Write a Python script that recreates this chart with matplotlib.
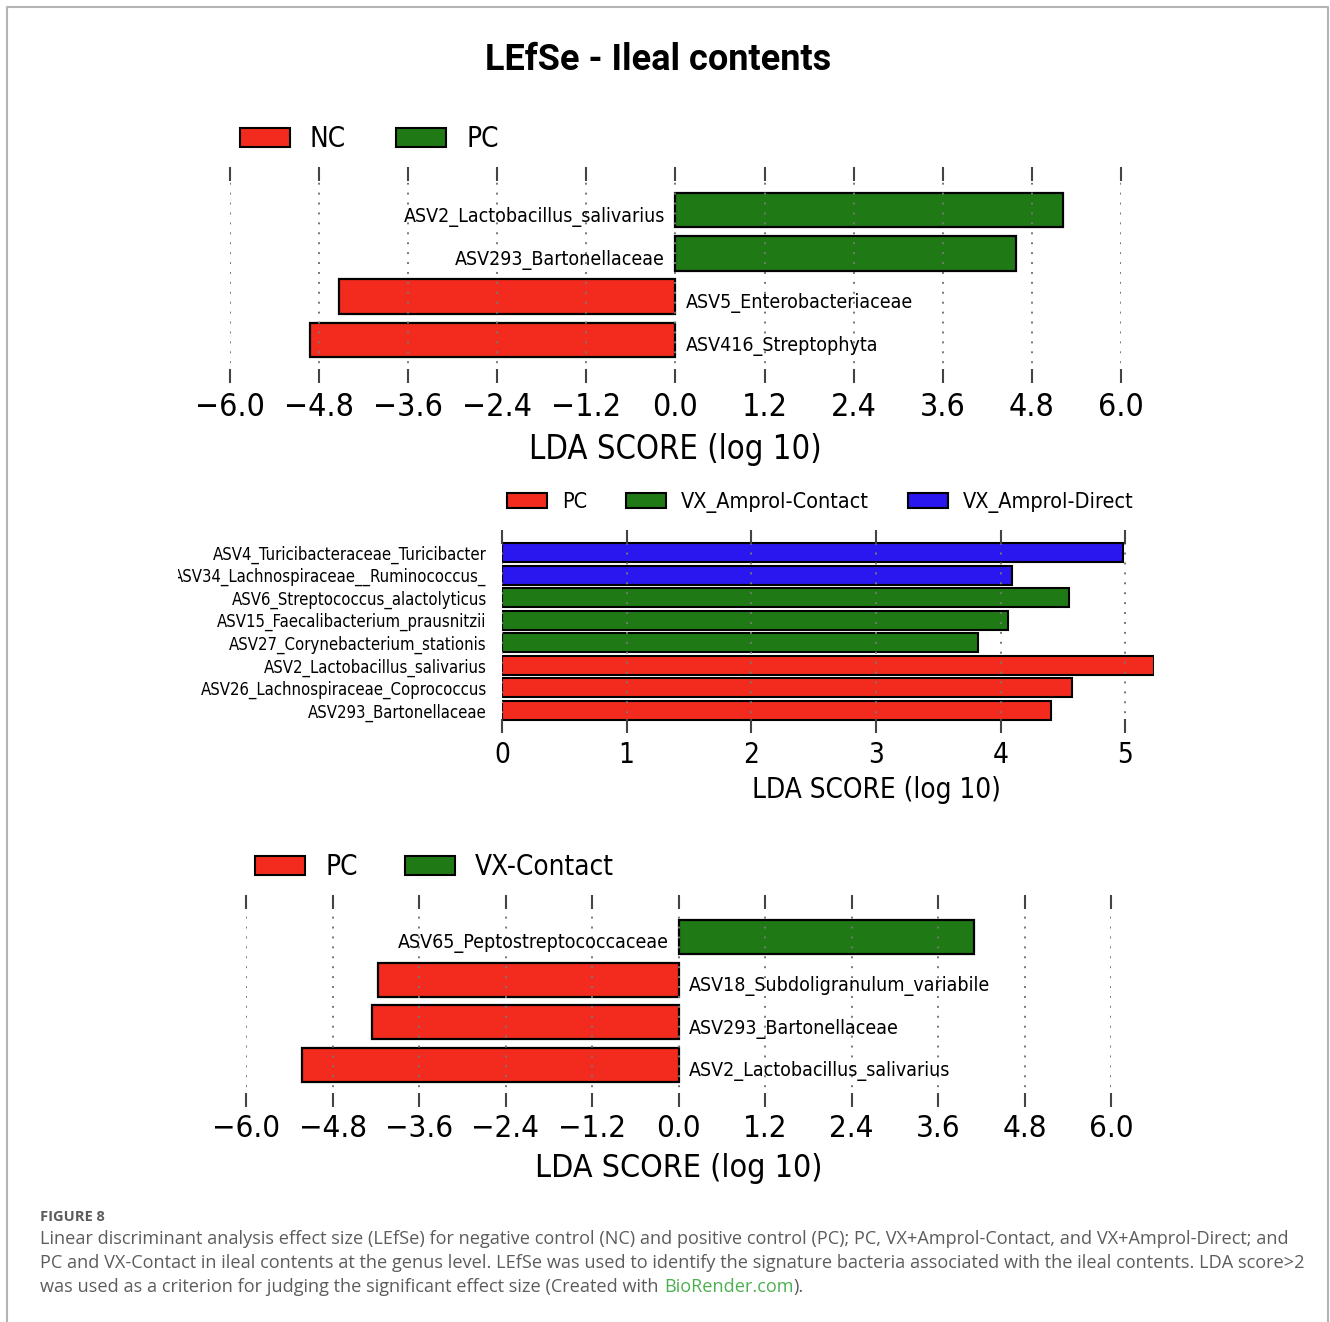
import numpy as np
import matplotlib
matplotlib.use("Agg")
import matplotlib.pyplot as plt
from matplotlib.patches import Patch
from matplotlib.lines import Line2D
from matplotlib.transforms import Bbox, TransformedBbox

# LEfSe results, ileal contents
p1_names = ["ASV2_Lactobacillus_salivarius", "ASV293_Bartonellaceae",
            "ASV5_Enterobacteriaceae", "ASV416_Streptophyta"]
p1_scores = [5.22, 4.59, -4.53, -4.92]
p1_groups = ["PC", "PC", "NC", "NC"]
p1_legend = ["NC", "PC"]

p2_names = ["ASV4_Turicibacteraceae_Turicibacter", "ASV34_Lachnospiraceae__Ruminococcus_",
            "ASV6_Streptococcus_alactolyticus", "ASV15_Faecalibacterium_prausnitzii",
            "ASV27_Corynebacterium_stationis", "ASV2_Lactobacillus_salivarius",
            "ASV26_Lachnospiraceae_Coprococcus", "ASV293_Bartonellaceae"]
p2_scores = [4.98, 4.09, 4.55, 4.06, 3.82, 5.23, 4.57, 4.40]
p2_groups = ["VX_Amprol-Direct", "VX_Amprol-Direct", "VX_Amprol-Contact", "VX_Amprol-Contact",
             "VX_Amprol-Contact", "PC", "PC", "PC"]
p2_legend = ["PC", "VX_Amprol-Contact", "VX_Amprol-Direct"]

p3_names = ["ASV65_Peptostreptococcaceae", "ASV18_Subdoligranulum_variabile",
            "ASV293_Bartonellaceae", "ASV2_Lactobacillus_salivarius"]
p3_scores = [4.10, -4.17, -4.25, -5.22]
p3_groups = ["VX-Contact", "PC", "PC", "PC"]
p3_legend = ["PC", "VX-Contact"]

sym_ticks = [-6.0, -4.8, -3.6, -2.4, -1.2, 0.0, 1.2, 2.4, 3.6, 4.8, 6.0]
pos_ticks = [0, 1, 2, 3, 4, 5]

RED, GREEN, BLUE = "#f22b1e", "#1f7a16", "#2a16ee"
colors = {"NC": RED, "PC": GREEN}
colors2 = {"PC": RED, "VX_Amprol-Contact": GREEN, "VX_Amprol-Direct": BLUE}
colors3 = {"PC": RED, "VX-Contact": GREEN}

plt.rcParams["font.family"] = "DejaVu Sans"
plt.rcParams["font.stretch"] = "condensed"

W, H = 1330, 1322
fig = plt.figure(figsize=(W / 100, H / 100), dpi=100)


def box(x0, y0, x1, y1):
    # pixel box (top-left origin) -> figure fraction rect
    return [x0 / W, 1 - y1 / H, (x1 - x0) / W, (y1 - y0) / H]


def fmt(v):
    return f"{v:.1f}".replace("-", "\u2212")


def style_axis(ax, tick_fs, pad=7):
    for s in ax.spines.values():
        s.set_visible(False)
    ax.tick_params(axis="x", direction="in", top=True, bottom=True, length=10,
                   width=1.5, color="#444444", labelsize=tick_fs, pad=pad)
    ax.grid(axis="x", linestyle=(0, (1, 4.1)), color="#777777", linewidth=1.4)
    ax.set_axisbelow(False)


def add_legend(order, cmap, x, y, fs, hlen, tpad, cspace):
    handles = [Patch(facecolor=cmap[g], edgecolor="black", linewidth=1.5) for g in order]
    fig.legend(handles, order, loc="center left", bbox_to_anchor=(x / W, 1 - y / H),
               ncol=len(order), frameon=False, fontsize=fs, handlelength=hlen,
               handleheight=0.7, handletextpad=tpad, columnspacing=cspace,
               borderpad=0, borderaxespad=0)


def two_sided(rect, names, scores, groups, cmap, tick_fs, label_fs, lab_fs, pad, labelpad):
    ax = fig.add_axes(rect)
    y = np.arange(len(names))
    ax.barh(y, scores, height=0.8, color=[cmap[g] for g in groups],
            edgecolor="black", linewidth=1.6)
    for yi, name, s in zip(y, names, scores):
        if s > 0:
            ax.text(-0.14, yi + 0.15, name, ha="right", va="center", fontsize=lab_fs)
        else:
            ax.text(0.14, yi + 0.15, name, ha="left", va="center", fontsize=lab_fs)
    ax.set_xlim(-6, 6)
    ax.set_ylim(len(names), -1)
    ax.set_xticks(sym_ticks, labels=[fmt(v) for v in sym_ticks])
    ax.set_yticks([])
    style_axis(ax, tick_fs, pad)
    ax.set_xlabel("LDA SCORE (log 10)", fontsize=label_fs, labelpad=labelpad)
    return ax


# panel 1: NC vs PC
two_sided(box(230, 167, 1121, 383), p1_names, p1_scores, p1_groups, colors,
          23, 23.5, 14, 6.5, 7)
add_legend(p1_legend, colors, 240, 139, 20, 1.8, 0.72, 1.8)

# panel 2: PC vs VX_Amprol groups
ax2 = fig.add_axes(box(502, 530, 1154, 733))
y2 = np.arange(len(p2_names))
ax2.barh(y2, p2_scores, height=0.84, color=[colors2[g] for g in p2_groups],
         edgecolor="black", linewidth=1.5)
ax2.set_xlim(0, max(p2_scores))
ax2.set_ylim(len(p2_names), -1)
ax2.set_xticks(pos_ticks, labels=[str(v) for v in pos_ticks])
ax2.set_yticks(y2, labels=p2_names, fontsize=12)
ax2.tick_params(axis="y", length=0, pad=11)
style_axis(ax2, 20, 5.5)
ax2.set_xlabel("LDA SCORE (log 10)", fontsize=20)
ax2.xaxis.set_label_coords((876 - 502) / 652, -(776 - 733) / 203)
clip = TransformedBbox(Bbox([[178 / W, 0], [1, 1]]), fig.transFigure)
for lab in ax2.get_yticklabels():
    lab.set_clip_box(clip)
    lab.set_clip_on(True)
add_legend(p2_legend, colors2, 507, 503, 15.5, 1.86, 0.7, 1.8)

# panel 3: PC vs VX-Contact
two_sided(box(246, 895, 1111, 1107), p3_names, p3_scores, p3_groups, colors3,
          22.5, 23, 14, 5, 7)
add_legend(p3_legend, colors3, 255, 867, 20, 1.8, 0.72, 1.7)

# title and page frame
fig.text(658 / W, 1 - 60 / H, "LEfSe - Ileal contents", ha="center", va="center",
         fontsize=26, fontweight="bold", family="Roboto", fontstretch="normal")
fig.add_artist(Line2D([7 / W, 7 / W, 1328 / W, 1328 / W], [0, 1 - 7 / H, 1 - 7 / H, 0],
                      transform=fig.transFigure, color="#b4b4b4", linewidth=1.5))

# caption
cap = dict(family="Open Sans", fontstretch="normal", color="#5c5c5c", fontsize=13.1,
           va="center", ha="left")
fig.text(40 / W, 1 - 1217 / H, "FIGURE 8", **{**cap, "fontsize": 10.5, "fontweight": "bold"})
fig.text(40 / W, 1 - 1239 / H,
         "Linear discriminant analysis effect size (LEfSe) for negative control (NC) and positive "
         "control (PC); PC, VX+Amprol-Contact, and VX+Amprol-Direct; and", **cap)
fig.text(40 / W, 1 - 1263 / H,
         "PC and VX-Contact in ileal contents at the genus level. LEfSe was used to identify the "
         "signature bacteria associated with the ileal contents. LDA score>2", **cap)
t_last = fig.text(40 / W, 1 - 1287 / H,
                  "was used as a criterion for judging the significant effect size (Created with",
                  **cap)
cap2 = {k: v for k, v in cap.items() if k not in ("va", "ha", "color")}
t_link = fig.axes[0].annotate("BioRender.com", xy=(1, 0), xycoords=t_last, xytext=(3.8, 0),
                              textcoords="offset points", va="bottom", ha="left",
                              color="#4caf50", annotation_clip=False, **cap2)
fig.axes[0].annotate(").", xy=(1, 0), xycoords=t_link, va="bottom", ha="left",
                     color="#5c5c5c", annotation_clip=False, **cap2)

fig.savefig("out.png", dpi=100)
